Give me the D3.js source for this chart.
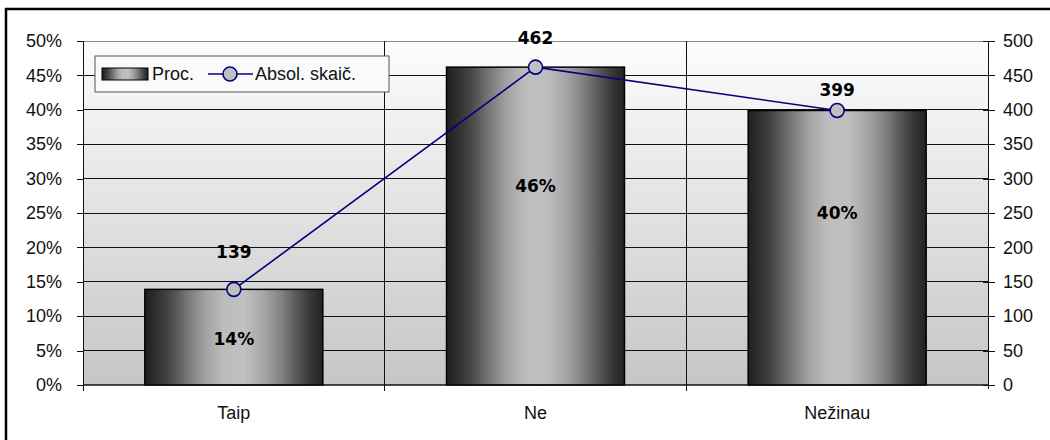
<!DOCTYPE html>
<html lang="lt">
<head>
    <meta charset="UTF-8">
    <title>Proc. / Absol. skaič.</title>
    <script src="https://d3js.org/d3.v7.min.js"></script>
    <style>
        body { margin: 0; background: #fff; }
        text { font-family: "Liberation Sans", Arial, sans-serif; }
    </style>
</head>
<body>
    <svg width="1050" height="440"></svg>
    <script>
        // chart values
        const categories = ["Taip", "Ne", "Nežinau"];
        const percents = [13.9, 46.2, 39.9];      // left axis, %
        const counts = [139, 462, 399];           // right axis
        const pctTicks = [0, 5, 10, 15, 20, 25, 30, 35, 40, 45, 50];
        const countTicks = [0, 50, 100, 150, 200, 250, 300, 350, 400, 450, 500];
        const legendLabels = ["Proc.", "Absol. skaič."];

        const width = 1050;
        const height = 440;
        const plot = {left: 83, right: 988, top: 41, bottom: 385};
        const tickFont = 18;

        const svg = d3.select("svg")
            .attr("width", width)
            .attr("height", height);

        const defs = svg.append("defs");

        // plot background: white at top fading to grey
        const bg = defs.append("linearGradient")
            .attr("id", "bgGrad")
            .attr("x1", 0).attr("y1", 0).attr("x2", 0).attr("y2", 1);
        bg.append("stop").attr("offset", 0).attr("stop-color", "#fdfdfd");
        bg.append("stop").attr("offset", 1).attr("stop-color", "#c6c6c6");

        // bar fill: dark edges, light centre
        const barGrad = defs.append("linearGradient")
            .attr("id", "barGrad")
            .attr("x1", 0).attr("y1", 0).attr("x2", 1).attr("y2", 0);
        [[0, "#202020"], [0.06, "#2e2e2e"], [0.14, "#484848"], [0.24, "#777"],
         [0.34, "#a2a2a2"], [0.44, "#bcbcbc"], [0.56, "#c0c0c0"], [0.66, "#a8a8a8"],
         [0.76, "#858585"], [0.86, "#555"], [0.94, "#333"], [1, "#222"]]
            .forEach(s => barGrad.append("stop").attr("offset", s[0]).attr("stop-color", s[1]));

        // outer frame
        svg.append("rect")
            .attr("x", 6).attr("y", 9)
            .attr("width", 1100).attr("height", 500)
            .attr("fill", "none")
            .attr("stroke", "#000")
            .attr("stroke-width", 2.5);

        // scales
        const xScale = d3.scaleBand()
            .domain(categories)
            .range([plot.left, plot.right])
            .paddingInner(0.41)
            .paddingOuter(0.205);

        const yPct = d3.scaleLinear()
            .domain([0, 50])
            .range([plot.bottom, plot.top]);

        const yCnt = d3.scaleLinear()
            .domain([0, 500])
            .range([plot.bottom, plot.top]);

        const step = xScale.step();

        // background
        svg.append("rect")
            .attr("x", plot.left).attr("y", plot.top)
            .attr("width", plot.right - plot.left)
            .attr("height", plot.bottom - plot.top)
            .attr("fill", "url(#bgGrad)");

        // horizontal gridlines
        svg.append("g")
            .attr("shape-rendering", "crispEdges")
            .selectAll("line")
            .data(pctTicks.filter(d => d > 0))
            .join("line")
            .attr("x1", plot.left).attr("x2", plot.right)
            .attr("y1", d => yPct(d)).attr("y2", d => yPct(d))
            .attr("stroke", d => d === 50 ? "#888" : "#111")
            .attr("stroke-width", 1);

        // vertical gridlines between categories
        svg.append("g")
            .attr("shape-rendering", "crispEdges")
            .selectAll("line")
            .data(categories.slice(1))
            .join("line")
            .attr("x1", d => xScale(d) - xScale.paddingInner() * step / 2)
            .attr("x2", d => xScale(d) - xScale.paddingInner() * step / 2)
            .attr("y1", plot.top).attr("y2", plot.bottom + 6)
            .attr("stroke", "#111");

        // bars
        svg.append("g")
            .selectAll("rect")
            .data(categories)
            .join("rect")
            .attr("x", d => xScale(d))
            .attr("y", (d, i) => yPct(percents[i]))
            .attr("width", xScale.bandwidth())
            .attr("height", (d, i) => yPct(0) - yPct(percents[i]))
            .attr("fill", "url(#barGrad)")
            .attr("stroke", "#000")
            .attr("stroke-width", 1.5);

        // left axis
        const leftAxis = svg.append("g")
            .attr("transform", `translate(${plot.left},0)`)
            .attr("shape-rendering", "crispEdges")
            .call(d3.axisLeft(yPct).tickValues(pctTicks).tickFormat(d => d + "%").tickSize(6).tickPadding(15));
        leftAxis.select(".domain").attr("stroke", "#111").attr("d", `M0,${plot.top}V${plot.bottom + 6}`);
        leftAxis.selectAll(".tick line").attr("stroke", "#111");
        leftAxis.selectAll("text")
            .attr("font-size", tickFont).attr("fill", "#111")
            .style("font-family", "'Liberation Sans', Arial, sans-serif");

        // right axis (ticks cross the line)
        const rightAxis = svg.append("g")
            .attr("transform", `translate(${plot.right},0)`)
            .attr("shape-rendering", "crispEdges")
            .call(d3.axisRight(yCnt).tickValues(countTicks).tickSize(7).tickPadding(8));
        rightAxis.select(".domain").attr("stroke", "#111").attr("d", `M0,${plot.top}V${plot.bottom + 4}`);
        rightAxis.selectAll(".tick line").attr("x1", -5).attr("stroke", "#111");
        rightAxis.selectAll("text")
            .attr("font-size", tickFont).attr("fill", "#111")
            .style("font-family", "'Liberation Sans', Arial, sans-serif");

        // bottom axis
        svg.append("line")
            .attr("x1", plot.left).attr("x2", plot.right)
            .attr("y1", plot.bottom).attr("y2", plot.bottom)
            .attr("stroke", "#111").attr("stroke-width", 1.5);
        svg.append("g")
            .selectAll("text")
            .data(categories)
            .join("text")
            .attr("x", d => xScale(d) + xScale.bandwidth() / 2)
            .attr("y", plot.bottom + 34)
            .attr("text-anchor", "middle")
            .attr("font-size", tickFont)
            .attr("fill", "#111")
            .text(d => d);

        // line series
        const cx = d => xScale(d) + xScale.bandwidth() / 2;
        const line = d3.line()
            .x((d, i) => cx(categories[i]))
            .y(d => yCnt(d));

        svg.append("path")
            .datum(counts)
            .attr("fill", "none")
            .attr("stroke", "#000080")
            .attr("stroke-width", 1.6)
            .attr("d", line);

        svg.append("g")
            .selectAll("circle")
            .data(counts)
            .join("circle")
            .attr("cx", (d, i) => cx(categories[i]))
            .attr("cy", d => yCnt(d))
            .attr("r", 7)
            .attr("fill", "#c0c0c0")
            .attr("stroke", "#000080")
            .attr("stroke-width", 1.6);

        // data labels (small nudges as placed in the original)
        const pctNudge = [2, -40, -35];
        const cntNudge = [-37, -29, -21];
        const labelFont = "Verdana, 'DejaVu Sans', sans-serif";

        svg.append("g")
            .selectAll("text")
            .data(percents)
            .join("text")
            .attr("x", (d, i) => cx(categories[i]))
            .attr("y", (d, i) => yPct(d / 2) + pctNudge[i])
            .attr("dy", "0.36em")
            .attr("text-anchor", "middle")
            .attr("font-size", 17)
            .attr("font-weight", "bold")
            .style("font-family", labelFont)
            .text(d => Math.round(d) + "%");

        svg.append("g")
            .selectAll("text")
            .data(counts)
            .join("text")
            .attr("x", (d, i) => cx(categories[i]))
            .attr("y", (d, i) => yCnt(d) + cntNudge[i])
            .attr("dy", "0.36em")
            .attr("text-anchor", "middle")
            .attr("font-size", 17)
            .attr("font-weight", "bold")
            .style("font-family", labelFont)
            .text(d => d);

        // legend
        const legend = svg.append("g").attr("transform", "translate(95,56)");
        legend.append("rect")
            .attr("width", 294).attr("height", 36)
            .attr("fill", "#fafafa")
            .attr("stroke", "#555")
            .attr("stroke-width", 1);
        legend.append("rect")
            .attr("x", 7).attr("y", 12)
            .attr("width", 46).attr("height", 12)
            .attr("fill", "url(#barGrad)")
            .attr("stroke", "#000");
        legend.append("text")
            .attr("x", 57).attr("y", 18).attr("dy", "0.35em")
            .attr("font-size", tickFont).attr("fill", "#111")
            .text(legendLabels[0]);
        legend.append("line")
            .attr("x1", 113).attr("x2", 158)
            .attr("y1", 18).attr("y2", 18)
            .attr("stroke", "#000080").attr("stroke-width", 1.6);
        legend.append("circle")
            .attr("cx", 135).attr("cy", 18).attr("r", 7)
            .attr("fill", "#c0c0c0")
            .attr("stroke", "#000080").attr("stroke-width", 1.6);
        legend.append("text")
            .attr("x", 160).attr("y", 18).attr("dy", "0.35em")
            .attr("font-size", tickFont).attr("fill", "#111")
            .text(legendLabels[1]);
    </script>
</body>
</html>
